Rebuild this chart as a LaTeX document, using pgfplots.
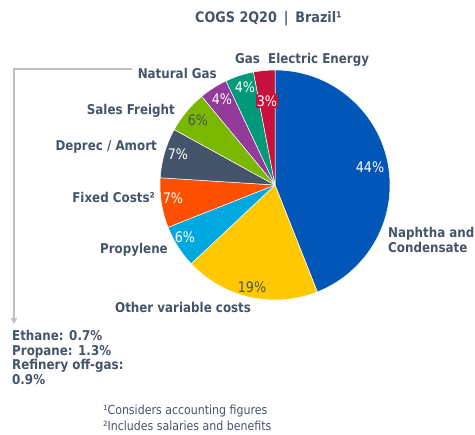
\documentclass[border=0pt]{standalone}
\usepackage{pgfplots}
\pgfplotsset{compat=1.18}
\usepackage{pgfplotstable}
\usepackage{fontspec}
\setmainfont{DejaVu Sans}[FakeStretch=0.88]
\usetikzlibrary{arrows.meta}
\definecolor{txt}{HTML}{44546A}
\definecolor{cNaph}{HTML}{0057B8}
\definecolor{cOther}{HTML}{FFC800}
\definecolor{cProp}{HTML}{00A8E0}
\definecolor{cFixed}{HTML}{FF5000}
\definecolor{cDep}{HTML}{44546A}
\definecolor{cSales}{HTML}{7AB800}
\definecolor{cNat}{HTML}{923B9A}
\definecolor{cGas}{HTML}{009A78}
\definecolor{cElec}{HTML}{C8103E}
\definecolor{lgrey}{HTML}{BFBFBF}

% value, colour, label position (image px), label colour
\pgfplotstableread{
name   value col    lx  ly  lcol
Naph   44    cNaph  370 167 white
Other  19    cOther 252 287 txt
Prop   6     cProp  185 237 white
Fixed  7     cFixed 173 198 white
Dep    7     cDep   178 154 white
Sales  6     cSales 198 120 txt
Nat    4     cNat   222 99  white
Gas    4     cGas   245 87  white
Elec   3     cElec  267 101 white
}\piedata

\begin{document}
\begin{tikzpicture}
\begin{axis}[
  scale only axis, width=475pt, height=435pt,
  xmin=0, xmax=475, ymin=0, ymax=435, y dir=reverse,
  hide axis, clip=false,
]
\path (axis cs:0,0) rectangle (axis cs:475,435);
\pgfplotsextra{
  \gdef\cumsum{0}
  \foreach \i in {0,...,8}{
    \pgfplotstablegetelem{\i}{value}\of\piedata \edef\sliceval{\pgfplotsretval}
    \pgfplotstablegetelem{\i}{col}\of\piedata \edef\slicecol{\pgfplotsretval}
    \pgfmathsetmacro\angA{90-3.6*\cumsum}
    \pgfmathsetmacro\angB{90-3.6*(\cumsum+\sliceval)}
    \fill[fill=\slicecol, draw=white, line width=0.5pt, line join=round]
      (axis cs:275,185) -- ++(\angA:115pt) arc[start angle=\angA, end angle=\angB, radius=115pt] -- cycle;
    \pgfmathsetmacro\newcum{\cumsum+\sliceval}
    \xdef\cumsum{\newcum}
  }
  \foreach \i in {0,...,8}{
    \pgfplotstablegetelem{\i}{value}\of\piedata \edef\sliceval{\pgfplotsretval}
    \pgfplotstablegetelem{\i}{lx}\of\piedata \edef\lx{\pgfplotsretval}
    \pgfplotstablegetelem{\i}{ly}\of\piedata \edef\ly{\pgfplotsretval}
    \pgfplotstablegetelem{\i}{lcol}\of\piedata \edef\lcol{\pgfplotsretval}
    \ifnum\i=8
      \node[fill=cElec, text=white, inner sep=1.2pt, font=\fontsize{14.5}{16}\selectfont] at (axis cs:\lx,\ly) {\sliceval\%};
    \else
      \node[text=\lcol, inner sep=0pt, font=\fontsize{14.5}{16}\selectfont] at (axis cs:\lx,\ly) {\sliceval\%};
    \fi
  }
}
% bracket line
\draw[lgrey, line width=1.2pt, -{Triangle[width=6pt,length=6pt]}] (axis cs:132,69) -- (axis cs:14,69) -- (axis cs:14,324);

% title
\node[anchor=base west, text=txt, font=\bfseries\fontsize{14.5}{16}\selectfont, inner sep=0pt] at (axis cs:195,23) {COGS 2Q20 \,|\, Brazil¹};

% labels
\begin{scope}[every node/.style={text=txt, font=\bfseries\fontsize{13.5}{15}\selectfont, inner sep=0pt}]
\node[anchor=base west] at (axis cs:235,64) {Gas};
\node[anchor=base west] at (axis cs:268,64) {Electric Energy};
\node[anchor=base east] at (axis cs:217,79) {Natural Gas};
\node[anchor=base east] at (axis cs:175,115) {Sales Freight};
\node[anchor=base east] at (axis cs:157,151) {Deprec / Amort};
\node[anchor=base east] at (axis cs:155,203) {Fixed Costs²};
\node[anchor=base east] at (axis cs:168,254) {Propylene};
\node[anchor=base west] at (axis cs:115,313) {Other variable costs};
\node[anchor=base west] at (axis cs:388,238) {Naphtha and};
\node[anchor=base west] at (axis cs:388,253) {Condensate};
\node[anchor=base west] at (axis cs:12,341) {Ethane: 0.7\%};
\node[anchor=base west] at (axis cs:12,355.5) {Propane: 1.3\%};
\node[anchor=base west] at (axis cs:12,370) {Refinery off-gas:};
\node[anchor=base west] at (axis cs:12,384.5) {0.9\%};
\end{scope}

% footnotes
\begin{scope}[every node/.style={text=txt, font=\fontsize{12.5}{14}\selectfont, inner sep=0pt}]
\node[anchor=base west] at (axis cs:103,415) {¹Considers accounting figures};
\node[anchor=base west] at (axis cs:103,431) {²Includes salaries and benefits};
\end{scope}
\end{axis}
\end{tikzpicture}
\end{document}
